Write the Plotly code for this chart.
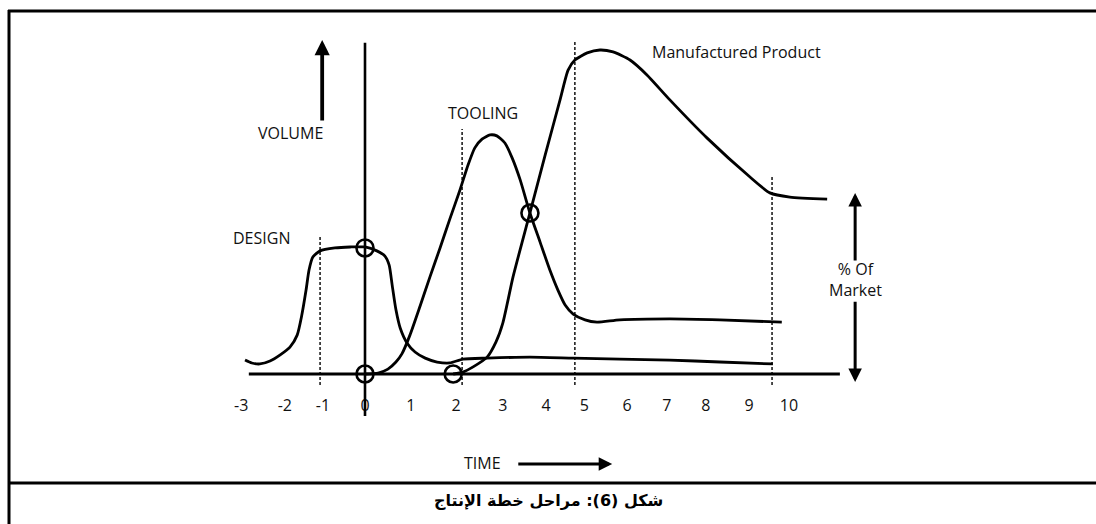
import plotly.graph_objects as go

# hand-drawn production-plan diagram; x is time, y is volume (0-100 scale)
design_t = [-2.83, -2.67, -2.48, -2.24, -2.00, -1.77, -1.60, -1.49, -1.39, -1.32, -1.23,
            -1.06, -0.71, -0.35, 0.00, 0.28, 0.47, 0.57, 0.64, 0.73, 0.83, 0.99, 1.18,
            1.42, 1.70, 2.00, 2.31, 2.88, 3.89, 4.91, 6.01, 7.19, 8.37, 9.62]
design_v = [4.3, 3.4, 3.1, 4.0, 5.9, 8.3, 12.0, 18.2, 25.9, 32.1, 36.1,
            38.0, 38.9, 39.2, 39.2, 38.0, 36.4, 33.6, 27.5, 19.8, 14.2, 9.6, 6.8,
            4.9, 3.7, 3.4, 4.6, 4.9, 5.2, 4.9, 4.6, 4.3, 3.7, 3.1]

tooling_t = [0.00, 0.31, 0.54, 0.73, 0.87, 1.06, 1.30, 1.53, 1.77, 2.00, 2.24, 2.43,
             2.59, 2.76, 2.95, 3.11, 3.30, 3.47, 3.66, 3.89, 4.13, 4.36, 4.55, 4.72,
             4.91, 5.19, 5.47, 6.01, 7.19, 8.37, 9.83]
tooling_v = [0.0, 0.3, 1.5, 3.7, 6.2, 12.0, 21.0, 29.9, 38.9, 47.8, 56.8, 64.5,
             69.8, 72.5, 73.8, 73.5, 71.3, 66.7, 59.9, 49.7, 40.7, 32.1, 25.9, 21.3,
             18.5, 16.7, 16.0, 16.7, 17.0, 16.7, 16.0]

product_t = [2.08, 2.31, 2.55, 2.88, 3.09, 3.25, 3.49, 3.70, 3.89, 4.25, 4.60, 4.79,
             4.95, 5.24, 5.54, 5.85, 6.25, 6.65, 7.19, 8.07, 9.08, 9.55, 10.02, 10.90]
product_v = [0.0, 0.6, 2.2, 5.2, 9.9, 15.7, 29.9, 40.4, 49.7, 67.6, 84.6, 93.8,
             96.9, 99.1, 100.0, 99.4, 96.9, 92.3, 84.6, 72.8, 60.8, 55.9, 54.6, 54.0]

# circled points where phases meet
marks_t = [0.0, 0.0, 2.08, 3.89]
marks_v = [0.0, 38.9, 0.0, 49.7]

# tick labels sit a little off the even grid, as drawn
tick_labels = ['-3', '-2', '-1', '0', '1', '2', '3', '4', '5', '6', '7', '8', '9', '10']
tick_pos = [-2.92, -1.89, -0.99, 0.0, 1.08, 2.15, 3.25, 4.27, 5.17, 6.18, 7.12, 8.04, 9.06, 10.0]

# dashed phase boundaries: time, top of the line
dash_t = [-1.06, 2.29, 4.95, 9.60]
dash_top = [42.9, 75.6, 103.1, 60.8]

caption = 'شكل (6): مراحل خطة الإنتاج'

FONT = 'Open Sans'
W, H = 1096, 524
PX_T, PX_V = 42.4, 3.24  # pixels per time unit / volume unit
X0, Y0 = 365, 374        # pixel position of the origin


def paper_x(px):
    return px / W


def paper_y(py):
    return 1 - py / H


curve_line = dict(color='black', width=2.8)
traces = [
    go.Scatter(x=design_t, y=design_v, mode='lines', line=dict(shape='spline', smoothing=0.6, **curve_line)),
    go.Scatter(x=tooling_t, y=tooling_v, mode='lines', line=dict(shape='spline', smoothing=0.6, **curve_line)),
    go.Scatter(x=product_t, y=product_v, mode='lines', line=dict(shape='spline', smoothing=0.6, **curve_line)),
    go.Scatter(x=marks_t, y=marks_v, mode='markers',
               marker=dict(symbol='circle-open', size=17, color='black', line=dict(width=2.6))),
    go.Scatter(x=tick_pos, y=[-10.2] * len(tick_pos), mode='text', text=tick_labels,
               textfont=dict(family=FONT, size=16, color='#111')),
]

shapes = []
# axes of the diagram
shapes.append(dict(type='line', xref='x', yref='y', x0=-2.74, x1=11.2, y0=0, y1=0,
                   line=dict(color='black', width=3)))
shapes.append(dict(type='line', xref='x', yref='y', x0=0, x1=0, y0=-13.0, y1=102.2,
                   line=dict(color='black', width=2.6)))
for t, top in zip(dash_t, dash_top):
    shapes.append(dict(type='line', xref='x', yref='y', x0=t, x1=t, y0=-3.4, y1=top,
                       line=dict(color='black', width=1.4, dash='3px,2px')))

# frame of the figure box and caption row
frame = dict(color='black', width=3)
shapes.append(dict(type='line', xref='paper', yref='paper', x0=paper_x(9), x1=paper_x(9),
                   y0=paper_y(10), y1=0, line=frame))
shapes.append(dict(type='line', xref='paper', yref='paper', x0=paper_x(8), x1=1,
                   y0=paper_y(11), y1=paper_y(11), line=frame))
shapes.append(dict(type='line', xref='paper', yref='paper', x0=paper_x(8), x1=1,
                   y0=paper_y(483), y1=paper_y(483), line=frame))

label_font = dict(family=FONT, size=16, color='#111')
annotations = [
    dict(x=-2.43, y=42.0, text='DESIGN', showarrow=False, font=label_font),
    dict(x=2.78, y=80.6, text='TOOLING', showarrow=False, font=label_font),
    dict(x=-1.75, y=74.4, text='VOLUME', showarrow=False, font=label_font),
    dict(x=8.77, y=99.4, text='Manufactured Product', showarrow=False, font=label_font),
    dict(x=11.58, y=29.3, text='% Of<br>Market', showarrow=False, font=label_font),
    dict(x=2.78, y=-27.5, text='TIME', showarrow=False, font=label_font),
    # arrows
    dict(x=-1.01, y=103.1, ax=-1.01, ay=77.8, axref='x', ayref='y', text='', showarrow=True,
         arrowhead=2, arrowsize=0.8, arrowwidth=3.8, arrowcolor='black'),
    dict(x=11.56, y=55.9, ax=11.56, ay=34.6, axref='x', ayref='y', text='', showarrow=True,
         arrowhead=2, arrowsize=0.9, arrowwidth=3, arrowcolor='black'),
    dict(x=11.56, y=-2.5, ax=11.56, ay=22.8, axref='x', ayref='y', text='', showarrow=True,
         arrowhead=2, arrowsize=0.9, arrowwidth=3, arrowcolor='black'),
    dict(x=5.83, y=-27.8, ax=3.58, ay=-27.8, axref='x', ayref='y', text='', showarrow=True,
         arrowhead=2, arrowsize=0.9, arrowwidth=3, arrowcolor='black'),
    dict(x=0.5, y=paper_y(500), xref='paper', yref='paper', xanchor='center', yanchor='middle',
         text='<b>' + caption + '</b>', showarrow=False,
         font=dict(family='DejaVu Sans', size=16, color='black')),
]

layout = go.Layout(
    width=W,
    height=H,
    margin=dict(l=0, r=0, t=0, b=0),
    paper_bgcolor='white',
    plot_bgcolor='white',
    showlegend=False,
    xaxis=dict(range=[-X0 / PX_T, (W - X0) / PX_T], visible=False, fixedrange=True),
    yaxis=dict(range=[(Y0 - H) / PX_V, Y0 / PX_V], visible=False, fixedrange=True),
    shapes=shapes,
    annotations=annotations,
)

fig = go.Figure(data=traces, layout=layout)
fig.write_html('out.html', config={'displayModeBar': False},
               post_script="document.body.style.margin='0';")
